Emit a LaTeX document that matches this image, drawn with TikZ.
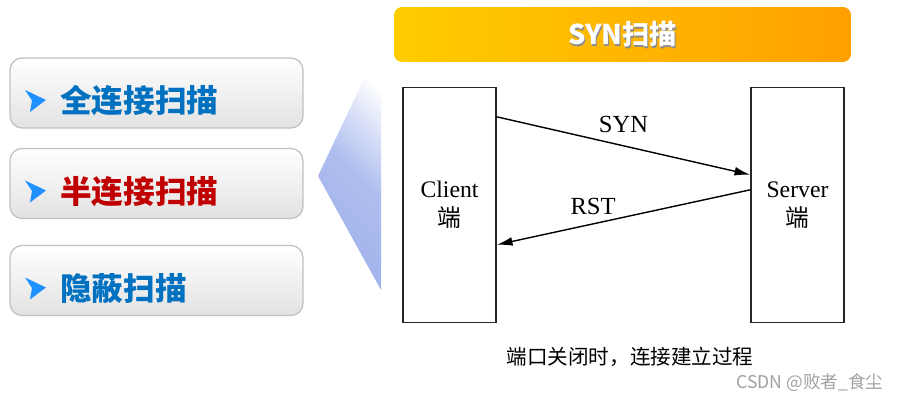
\documentclass[tikz,border=0pt]{standalone}
\usepackage{fontspec}
\setmainfont{Liberation Serif}
\newfontfamily\cjk{Noto Sans CJK SC}
\usetikzlibrary{arrows,arrows.meta}

\definecolor{tblue}{RGB}{0,112,192}
\definecolor{tred}{RGB}{192,0,0}
\definecolor{bulletblue}{RGB}{30,144,255}
\definecolor{fnblue}{RGB}{160,178,236}
\definecolor{hdtop}{RGB}{255,204,0}
\definecolor{hdbot}{RGB}{255,160,0}
\definecolor{boxline}{RGB}{192,192,192}
\definecolor{boxbot}{RGB}{226,226,226}
\definecolor{markgray}{RGB}{160,160,160}

\tikzset{
  scanbox/.style={draw=boxline,line width=0.7pt,rounded corners=0.24cm,
    top color=white,bottom color=boxbot,minimum width=5.86cm,minimum height=1.4cm},
  scantext/.style={anchor=west,font=\cjk\bfseries\fontsize{18}{20}\selectfont},
  hostbox/.style={draw=black!85,line width=0.8pt,minimum width=1.86cm,
    minimum height=4.7cm,align=center,font=\fontsize{13.5}{16.5}\selectfont},
  msg/.style={-{Latex[length=9pt,width=5pt]},line width=0.8pt},
  msglabel/.style={font=\fontsize{14}{16}\selectfont}
}

\begin{document}
\begin{tikzpicture}[x=0.02cm,y=-0.02cm]
  \useasboundingbox (0,0) rectangle (904,402);

  % left column: the three scan types
  \foreach \i/\y/\t/\c in {1/93/全连接扫描/tblue, 2/183.5/半连接扫描/tred, 3/280.5/隐蔽扫描/tblue} {
    \node[scanbox] (scan\i) at (156.5,\y) {};
    \fill[bulletblue,shift={(0,\y)}] (25,-3) -- (46,7) -- (30,19) -- (32,7.5) -- cycle;
    \node[scantext,text=\c] (scantext\i) at (54,\y+8) {\t};
  }

  % funnel towards the detail panel
  \shade[top color=white,bottom color=fnblue,middle color=fnblue!85,shading angle=-45]
    (318,176) -- (381,43) -- (381,290) -- cycle;

  % header
  \node[rounded corners=0.16cm,left color=hdtop,right color=hdbot,
    minimum width=9.14cm,minimum height=1.1cm] (header) at (622.5,34.5) {};
  \node[font=\cjk\bfseries\fontsize{15.5}{18}\selectfont,text=black!45]
    (headshadow) at ([shift={(0.7pt,-0.7pt)}]header.center) {SYN扫描};
  \node[font=\cjk\bfseries\fontsize{15.5}{18}\selectfont,text=white]
    (headtext) at (header.center) {SYN扫描};

  % client and server
  \node[hostbox] (client) at (449.5,205) {Client\\{\cjk 端}};
  \node[hostbox] (server) at (797.5,205) {Server\\{\cjk 端}};

  \draw[msg] ([yshift=-0.6cm]client.north east)
    -- node[msglabel,above=0.14cm] (synlabel) {SYN} ([yshift=-1.76cm]server.north west);
  \draw[msg] ([yshift=-2.06cm]server.north west)
    -- node[msglabel,pos=0.62,above=0.05cm] (rstlabel) {RST} ([yshift=-3.16cm]client.north east);

  % captions
  \node[font=\cjk\fontsize{11.7}{14}\selectfont] (caption) at (630,357) {端口关闭时，连接建立过程};
  \node[font=\cjk\fontsize{10}{12}\selectfont,text=markgray] (watermark) at (810,383) {CSDN @败者\_食尘};
\end{tikzpicture}
\end{document}
